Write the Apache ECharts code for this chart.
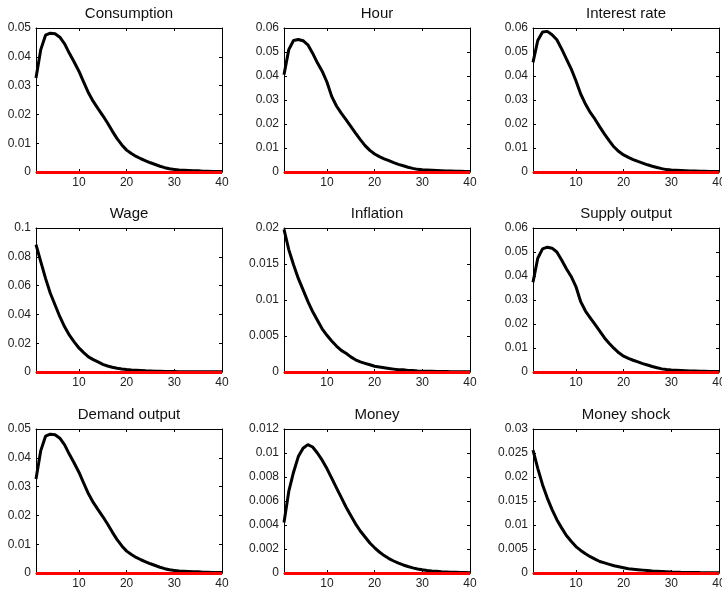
<!DOCTYPE html>
<html>
<head>
<meta charset="utf-8">
<title>Impulse responses</title>
<script src="https://cdn.jsdelivr.net/npm/echarts@6.0.0/dist/echarts.min.js"></script>
<style>
  html, body { margin: 0; padding: 0; background: #fff; }
  #chart { width: 722px; height: 590px; }
</style>
</head>
<body>
<div id="chart"></div>
<script>
// periods 1..40
const periods = [];
for (let i = 1; i <= 40; i++) periods.push(String(i));

const titles = ['Consumption', 'Hour', 'Interest rate', 'Wage', 'Inflation', 'Supply output', 'Demand output', 'Money', 'Money shock'];
const yMax = [0.05, 0.06, 0.06, 0.1, 0.02, 0.06, 0.05, 0.012, 0.03];
const yStep = [0.01, 0.01, 0.01, 0.02, 0.005, 0.01, 0.01, 0.002, 0.005];

const consumption = [0.0326, 0.0425, 0.0475, 0.0482, 0.0480, 0.0468, 0.0445, 0.0412, 0.0382, 0.0350,
  0.0312, 0.0275, 0.0245, 0.0220, 0.0196, 0.0170, 0.0142, 0.0116, 0.0094, 0.0076,
  0.0064, 0.0054, 0.0046, 0.0039, 0.0032, 0.0026, 0.0020, 0.0015, 0.0011, 0.0009,
  0.0007, 0.0006, 0.0005, 0.0004, 0.0004, 0.0003, 0.0003, 0.0002, 0.0002, 0.0002];
const hour = [0.0405, 0.0510, 0.0548, 0.0552, 0.0547, 0.0530, 0.0495, 0.0455, 0.0420, 0.0375,
  0.0315, 0.0275, 0.0245, 0.0218, 0.0190, 0.0162, 0.0135, 0.0110, 0.0090, 0.0075,
  0.0064, 0.0055, 0.0047, 0.0039, 0.0032, 0.0026, 0.0020, 0.0015, 0.0011, 0.0009,
  0.0008, 0.0007, 0.0006, 0.0005, 0.0004, 0.0004, 0.0003, 0.0003, 0.0002, 0.0002];
const interestRate = [0.0457, 0.0548, 0.0583, 0.0586, 0.0572, 0.0551, 0.0513, 0.0471, 0.0430, 0.0380,
  0.0325, 0.0283, 0.0248, 0.0220, 0.0188, 0.0158, 0.0130, 0.0104, 0.0085, 0.0071,
  0.0061, 0.0052, 0.0044, 0.0037, 0.0030, 0.0024, 0.0019, 0.0014, 0.0010, 0.0008,
  0.0007, 0.0006, 0.0005, 0.0004, 0.0004, 0.0003, 0.0003, 0.0002, 0.0002, 0.0002];
const wage = [0.0884, 0.0767, 0.0650, 0.0547, 0.0465, 0.0384, 0.0314, 0.0256, 0.0209, 0.0167,
  0.0135, 0.0105, 0.0086, 0.0070, 0.0053, 0.0042, 0.0033, 0.0026, 0.0021, 0.0017,
  0.0014, 0.0012, 0.0010, 0.0008, 0.0007, 0.0006, 0.0005, 0.0004, 0.0003, 0.0003,
  0.0002, 0.0002, 0.0002, 0.0001, 0.0001, 0.0001, 0.0001, 0.0001, 0.0001, 0.0001];
const inflation = [0.0198, 0.0170, 0.0149, 0.0130, 0.0114, 0.0098, 0.0084, 0.0072, 0.0060, 0.0051,
  0.0043, 0.0036, 0.0030, 0.0026, 0.0021, 0.0017, 0.0014, 0.0012, 0.0010, 0.0008,
  0.0007, 0.0006, 0.0005, 0.0004, 0.0003, 0.0003, 0.0002, 0.0002, 0.00015, 0.00012,
  0.0001, 0.00009, 0.00008, 0.00007, 0.00006, 0.00005, 0.00004, 0.00004, 0.00003, 0.00003];
const supplyOutput = [0.0374, 0.0474, 0.0513, 0.0520, 0.0516, 0.0500, 0.0467, 0.0430, 0.0398, 0.0356,
  0.0293, 0.0254, 0.0226, 0.0198, 0.0170, 0.0142, 0.0119, 0.0098, 0.0080, 0.0066,
  0.0057, 0.0049, 0.0042, 0.0035, 0.0029, 0.0023, 0.0018, 0.0013, 0.0010, 0.0008,
  0.0007, 0.0006, 0.0005, 0.0004, 0.0004, 0.0003, 0.0003, 0.0002, 0.0002, 0.0002];
const demandOutput = [0.0326, 0.0425, 0.0475, 0.0482, 0.0480, 0.0468, 0.0445, 0.0412, 0.0382, 0.0350,
  0.0312, 0.0275, 0.0245, 0.0220, 0.0196, 0.0170, 0.0142, 0.0116, 0.0094, 0.0076,
  0.0064, 0.0054, 0.0046, 0.0039, 0.0032, 0.0026, 0.0020, 0.0015, 0.0011, 0.0009,
  0.0007, 0.0006, 0.0005, 0.0004, 0.0004, 0.0003, 0.0003, 0.0002, 0.0002, 0.0002];
const money = [0.0042, 0.0068, 0.0084, 0.0097, 0.0104, 0.0107, 0.0105, 0.0100, 0.0094, 0.0087,
  0.0079, 0.0071, 0.0063, 0.0055, 0.0048, 0.0041, 0.0035, 0.0030, 0.0025, 0.0021,
  0.00175, 0.00145, 0.0012, 0.0010, 0.00082, 0.00067, 0.00054, 0.00043, 0.00034, 0.00027,
  0.00021, 0.00017, 0.00014, 0.00011, 0.00009, 0.00007, 0.00006, 0.00005, 0.00004, 0.00003];
const moneyShock = [0.0256, 0.0218, 0.0184, 0.0156, 0.0132, 0.0111, 0.0094, 0.0078, 0.0066, 0.0055,
  0.0047, 0.0040, 0.0034, 0.0029, 0.0024, 0.0021, 0.0018, 0.0015, 0.0013, 0.0011,
  0.0009, 0.0008, 0.0007, 0.0006, 0.0005, 0.0004, 0.00035, 0.0003, 0.00025, 0.0002,
  0.00018, 0.00015, 0.00013, 0.00011, 0.0001, 0.00008, 0.00007, 0.00006, 0.00005, 0.00004];

const responses = [consumption, hour, interestRate, wage, inflation, supplyOutput, demandOutput, money, moneyShock];

// panel layout (pixels)
const colLeft = [36, 284, 533];
const rowTop = [28, 228, 429];
const panelW = 186;
const panelH = 144;

const font = 'Liberation Sans, Arial, Helvetica, sans-serif';
const showTen = (idx, val) => Number(val) % 10 === 0;

const grid = [], xAxis = [], yAxis = [], series = [], title = [];

responses.forEach((data, i) => {
  const left = colLeft[i % 3];
  const top = rowTop[Math.floor(i / 3)];
  grid.push({ left: left, top: top, width: panelW, height: panelH, outerBoundsMode: 'none', containLabel: false });

  title.push({
    text: titles[i],
    left: left + panelW / 2,
    top: top - 22,
    textAlign: 'center',
    padding: 0,
    textStyle: { fontFamily: font, fontSize: 15, fontWeight: 'normal', color: '#111' }
  });

  const xBase = {
    type: 'category', data: periods, boundaryGap: false, gridIndex: i,
    axisLine: { onZero: false, lineStyle: { color: '#000', width: 1 } },
    axisTick: { inside: true, length: 3, interval: showTen, lineStyle: { color: '#000' } },
    splitLine: { show: false }
  };
  xAxis.push(Object.assign({}, xBase, {
    position: 'bottom',
    axisLabel: { interval: showTen, fontFamily: font, fontSize: 12, color: '#222', margin: 5 }
  }));
  xAxis.push(Object.assign({}, xBase, { position: 'top', axisLabel: { show: false } }));

  const yBase = {
    type: 'value', min: 0, max: yMax[i], interval: yStep[i], gridIndex: i,
    axisLine: { show: true, onZero: false, lineStyle: { color: '#000', width: 1 } },
    axisTick: { show: true, inside: true, length: 3, lineStyle: { color: '#000' } },
    splitLine: { show: false }
  };
  yAxis.push(Object.assign({}, yBase, {
    position: 'left',
    axisLabel: { fontFamily: font, fontSize: 12, color: '#222', margin: 5 }
  }));
  yAxis.push(Object.assign({}, yBase, { position: 'right', axisLabel: { show: false } }));

  series.push({
    type: 'line', data: data, xAxisIndex: 2 * i, yAxisIndex: 2 * i,
    symbol: 'none', smooth: false,
    lineStyle: { color: '#000', width: 3 },
    markLine: {
      silent: true, symbol: 'none', label: { show: false },
      lineStyle: { color: '#ff0000', width: 3, type: 'solid' },
      data: [{ yAxis: 0 }]
    },
    z: 3
  });
});

const chart = echarts.init(document.getElementById('chart'), null, { renderer: 'canvas' });
chart.setOption({
  animation: false,
  backgroundColor: '#fff',
  title: title,
  grid: grid,
  xAxis: xAxis,
  yAxis: yAxis,
  series: series
});
</script>
</body>
</html>
